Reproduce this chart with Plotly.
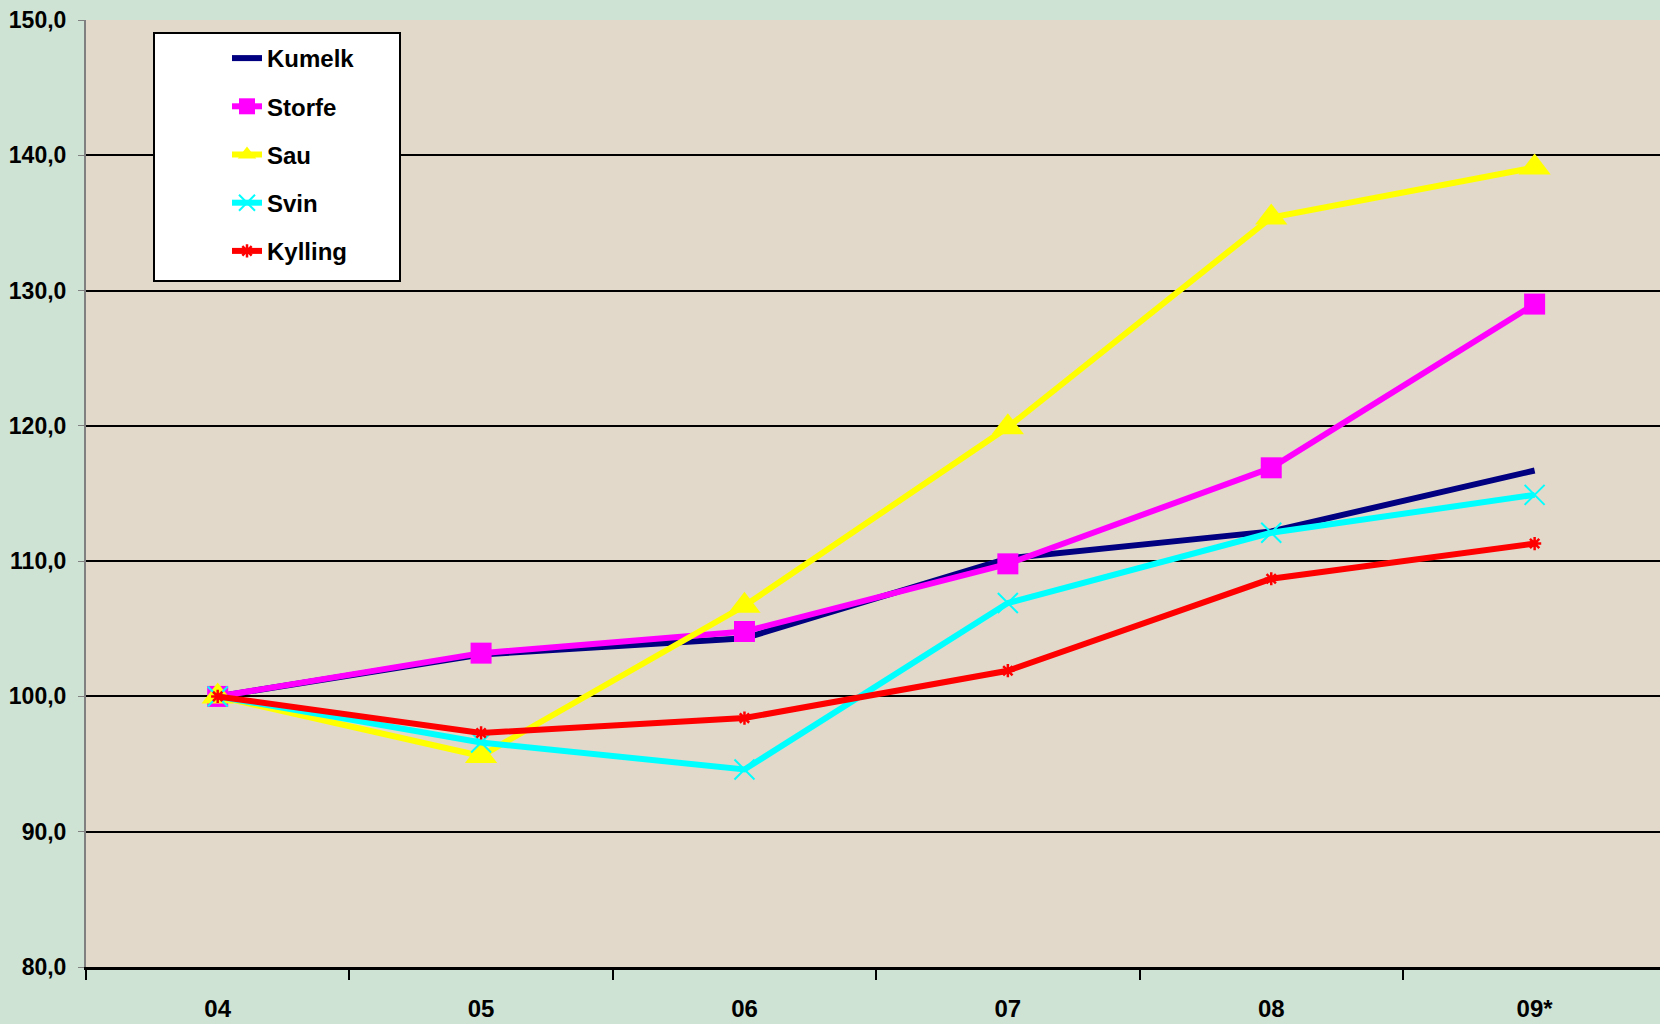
import plotly.graph_objects as go

years = ["04", "05", "06", "07", "08", "09*"]
kumelk = [100.0, 103.1, 104.3, 110.2, 112.2, 116.7]
storfe = [100.0, 103.2, 104.8, 109.8, 116.9, 129.0]
sau = [100.0, 95.6, 106.7, 119.9, 135.4, 139.1]
svin = [100.0, 96.6, 94.6, 106.9, 112.1, 114.9]
kylling = [100.0, 97.3, 98.4, 101.9, 108.7, 111.3]
y_ticks = [80, 90, 100, 110, 120, 130, 140, 150]
y_tick_text = ["80,0", "90,0", "100,0", "110,0", "120,0", "130,0", "140,0", "150,0"]

FONT = "Liberation Sans, Arial, sans-serif"

fig = go.Figure()
series = [
    ("Kumelk", kumelk, "#000080", dict(size=1, opacity=0), "lines"),
    ("Storfe", storfe, "#FF00FF", dict(symbol="square", size=21, color="#FF00FF"), "lines+markers"),
    ("Sau", sau, "#FFFF00", dict(symbol="triangle-up", size=28, color="#FFFF00"), "lines+markers"),
    ("Svin", svin, "#00FFFF", dict(symbol="x-thin-open", size=20, line=dict(color="#00FFFF", width=2)), "lines+markers"),
    ("Kylling", kylling, "#FF0000", dict(symbol="asterisk-open", size=11, line=dict(color="#FF0000", width=2.5)), "lines+markers"),
]
for i, (name, vals, color, marker, mode) in enumerate(series):
    fig.add_trace(go.Scatter(
        x=years, y=vals, name=name, mode=mode,
        line=dict(color=color, width=6),
        marker=marker, legendgroup=f"g{i}", hoverinfo="skip",
    ))

fig.add_shape(type="rect", xref="paper", yref="paper",
              x0=(154 - 86) / 1574, x1=(400 - 86) / 1574,
              y0=(967 - 281) / 947, y1=(967 - 33) / 947,
              fillcolor="white", line=dict(color="black", width=2), layer="above")

fig.update_layout(
    width=1660, height=1024,
    margin=dict(l=86, r=0, t=20, b=57),
    paper_bgcolor="#CFE3D5",
    plot_bgcolor="#E3D9CB",
    font=dict(family=FONT, size=22, color="black", weight="bold"),
    showlegend=True,
    legend=dict(
        x=(227 - 86) / 1574, y=(967 - 36) / 947, xanchor="left", yanchor="top",
        bgcolor="rgba(0,0,0,0)", borderwidth=0,
        font=dict(family=FONT, size=24, color="black", weight="bold"),
        traceorder="grouped", tracegroupgap=14, itemwidth=30,
    ),
    xaxis=dict(
        type="category", range=[-0.5, 5.476],
        showgrid=False, showline=True, linecolor="black", linewidth=3,
        ticks="outside", tickson="boundaries", ticklen=10, tickwidth=2, tickcolor="black",
        ticklabelstandoff=18,
        tickfont=dict(family=FONT, size=24, color="black", weight="bold"),
        fixedrange=True,
    ),
    yaxis=dict(
        range=[80, 150], tickvals=y_ticks, ticktext=y_tick_text,
        showgrid=True, gridcolor="black", gridwidth=2,
        showline=True, linecolor="#808080", linewidth=2,
        ticks="outside", ticklen=6, tickwidth=1, tickcolor="#808080",
        ticklabelstandoff=7, zeroline=False,
        tickfont=dict(family=FONT, size=23, color="black", weight="bold"),
        fixedrange=True,
    ),
)

fig.write_html("out.html", config={"displayModeBar": False},
               post_script="document.body.style.margin='0';")
